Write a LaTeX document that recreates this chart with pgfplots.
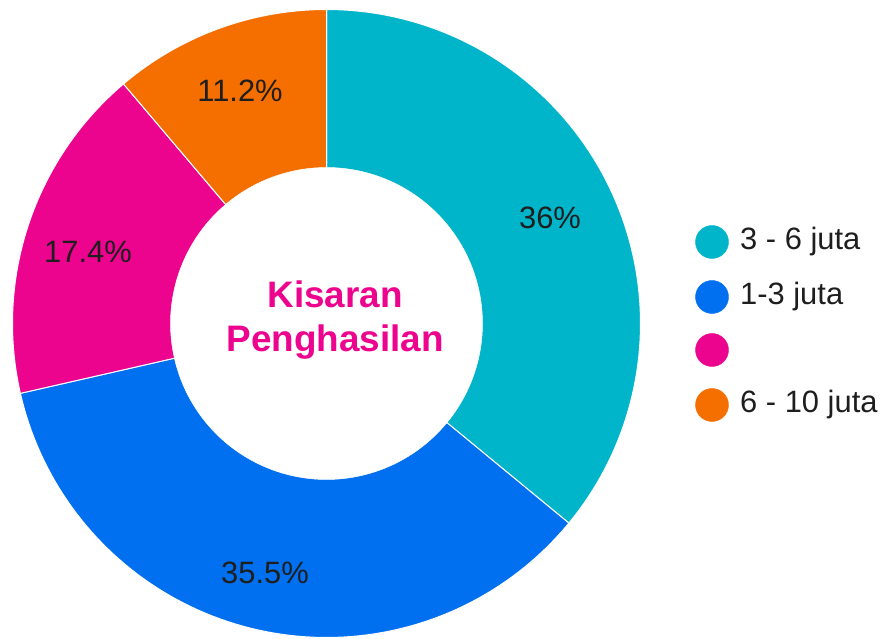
\documentclass[border=0pt]{standalone}
\usepackage{pgfplots}
\pgfplotsset{compat=1.18}
\usepackage{fontspec}
\setmainfont{Liberation Sans}
\definecolor{cCyan}{RGB}{0,180,202}
\definecolor{cBlue}{RGB}{0,112,240}
\definecolor{cPink}{RGB}{236,4,142}
\definecolor{cOrange}{RGB}{245,110,0}
\definecolor{cText}{RGB}{30,30,30}
% shares (percent), clockwise from top
\def\vA{36}\def\vB{35.5}\def\vC{17.4}\def\vD{11.2}
\pgfmathsetmacro{\tot}{\vA+\vB+\vC+\vD}
\pgfmathsetmacro{\aA}{90}
\pgfmathsetmacro{\aB}{90-360*\vA/\tot}
\pgfmathsetmacro{\aC}{\aB-360*\vB/\tot}
\pgfmathsetmacro{\aD}{\aC-360*\vC/\tot}
\pgfmathsetmacro{\aE}{\aD-360*\vD/\tot}
\def\cx{326.5}\def\cy{315.5}\def\R{314}\def\r{156}
\begin{document}
\begin{tikzpicture}
\begin{axis}[
  width=891bp, height=639bp, scale only axis,
  xmin=0, xmax=891, ymin=0, ymax=639,
  hide axis, clip=false,
  trig format plots=deg,
]
\path (axis cs:0,0) rectangle (axis cs:891,639);
\addplot[fill=cCyan, draw=white, line width=1pt, domain=\aB:\aA, samples=90]
  ({\cx+\R*cos(x)},{\cy+\R*sin(x)}) -- (axis cs:\cx,\cy) -- cycle;
\addplot[fill=cBlue, draw=white, line width=1pt, domain=\aC:\aB, samples=90]
  ({\cx+\R*cos(x)},{\cy+\R*sin(x)}) -- (axis cs:\cx,\cy) -- cycle;
\addplot[fill=cPink, draw=white, line width=1pt, domain=\aD:\aC, samples=60]
  ({\cx+\R*cos(x)},{\cy+\R*sin(x)}) -- (axis cs:\cx,\cy) -- cycle;
\addplot[fill=cOrange, draw=white, line width=1pt, domain=\aE:\aD, samples=40]
  ({\cx+\R*cos(x)},{\cy+\R*sin(x)}) -- (axis cs:\cx,\cy) -- cycle;
\addplot[fill=white, draw=white, line width=0.5pt, domain=0:360, samples=180]
  ({\cx+\r*cos(x)},{\cy+\r*sin(x)}) -- cycle;
% slice labels
\node[text=cText, font=\fontsize{31}{36}\selectfont] at (axis cs:550,421) {36\%};
\node[text=cText, font=\fontsize{31}{36}\selectfont] at (axis cs:265,66) {35.5\%};
\node[text=cText, font=\fontsize{31}{36}\selectfont] at (axis cs:88,387) {17.4\%};
\node[text=cText, font=\fontsize{31}{36}\selectfont] at (axis cs:240,548) {11.2\%};
% centre title
\node[text=cPink, font=\fontsize{37}{44}\selectfont\bfseries, align=center] at (axis cs:335,319) {Kisaran\\Penghasilan};
% legend
\addplot[only marks, mark=*, mark size=16.5bp, color=cCyan] coordinates {(712,397)};
\addplot[only marks, mark=*, mark size=16.5bp, color=cBlue] coordinates {(712,342)};
\addplot[only marks, mark=*, mark size=16.5bp, color=cPink] coordinates {(712,289)};
\addplot[only marks, mark=*, mark size=16.5bp, color=cOrange] coordinates {(712,234)};
\node[anchor=west, text=cText, font=\fontsize{31}{36}\selectfont, inner xsep=0pt] at (axis cs:740,397) {3 - 6 juta};
\node[anchor=west, text=cText, font=\fontsize{31}{36}\selectfont, inner xsep=0pt] at (axis cs:740,342) {1-3 juta};
\node[anchor=west, text=cText, font=\fontsize{31}{36}\selectfont, inner xsep=0pt] at (axis cs:740,234) {6 - 10 juta};
\end{axis}
\end{tikzpicture}
\end{document}
